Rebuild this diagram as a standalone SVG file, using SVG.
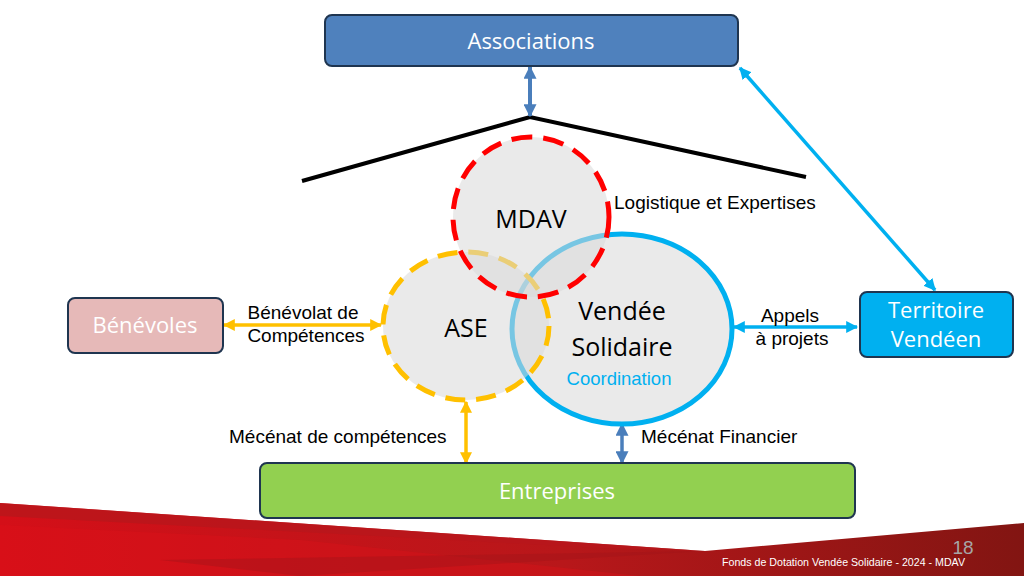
<svg xmlns="http://www.w3.org/2000/svg" width="1024" height="576" viewBox="0 0 1024 576">
<style>
.box{stroke:#1F3550;stroke-width:2}
.bl{font-family:"Open Sans","Liberation Sans",sans-serif;font-size:22px;fill:#FFFFFF;text-anchor:middle}
.cl{font-family:"Open Sans","Liberation Sans",sans-serif;font-size:25px;fill:#000000;text-anchor:middle}
.lab{font-family:"Liberation Sans",Arial,sans-serif;font-size:19px;fill:#000000}
.circ{fill:#D9D9D9;fill-opacity:0.55}
</style>
<defs>
<marker id="ay" viewBox="0 0 10 10" refX="9" refY="5" markerWidth="12" markerHeight="12" markerUnits="userSpaceOnUse" orient="auto-start-reverse"><path d="M0,0 L10,5 L0,10 z" fill="#FFC000"/></marker>
<marker id="ac" viewBox="0 0 10 10" refX="9" refY="5" markerWidth="12" markerHeight="12" markerUnits="userSpaceOnUse" orient="auto-start-reverse"><path d="M0,0 L10,5 L0,10 z" fill="#00B0F0"/></marker>
<marker id="ab" viewBox="0 0 10 10" refX="9" refY="5" markerWidth="13" markerHeight="13" markerUnits="userSpaceOnUse" orient="auto-start-reverse"><path d="M0,0 L10,5 L0,10 z" fill="#4A7EBB"/></marker>
<linearGradient id="red" x1="0" y1="0" x2="1" y2="0">
<stop offset="0" stop-color="#D40F18"/>
<stop offset="0.55" stop-color="#B8171A"/>
<stop offset="1" stop-color="#821512"/>
</linearGradient>
</defs>
<rect width="1024" height="576" fill="#FFFFFF"/>

<g id="footer">
<polygon points="0,503 705,551 1024,523 1024,576 0,576" fill="url(#red)"/>
<polygon points="0,503 705,551 600,548 0,516" fill="#B8161C" opacity="0.8"/>
<polygon points="0,525 300,540 640,576 0,576" fill="#E0101A" opacity="0.35"/>
<polygon points="160,560 705,551 300,576" fill="#A01518" opacity="0.4"/>
<text x="963" y="554" font-family="Liberation Sans,Arial,sans-serif" font-size="19" fill="#A6A6A6" text-anchor="middle">18</text>
<text x="722" y="566" font-family="Liberation Sans,Arial,sans-serif" font-size="10.5" fill="#FFFFFF" textLength="243" lengthAdjust="spacingAndGlyphs">Fonds de Dotation Vendée Solidaire - 2024 - MDAV</text>
</g>

<g id="roof">
<polyline points="302,181 530,117 806,177" fill="none" stroke="#000000" stroke-width="4"/>
</g>

<g id="connectors">
<line x1="530" y1="67" x2="530" y2="116" stroke="#4A7EBB" stroke-width="4" marker-start="url(#ab)" marker-end="url(#ab)"/>
<line x1="740" y1="68" x2="935" y2="290" stroke="#00B0F0" stroke-width="3.5" marker-start="url(#ac)" marker-end="url(#ac)"/>
<line x1="224" y1="325" x2="381" y2="325" stroke="#FFC000" stroke-width="3.5" marker-start="url(#ay)" marker-end="url(#ay)"/>
<line x1="734" y1="327" x2="857" y2="327" stroke="#00B0F0" stroke-width="3.5" marker-start="url(#ac)" marker-end="url(#ac)"/>
<line x1="466" y1="402" x2="466" y2="463" stroke="#FFC000" stroke-width="3.5" marker-start="url(#ay)" marker-end="url(#ay)"/>
<line x1="622" y1="424" x2="622" y2="463" stroke="#4A7EBB" stroke-width="3.5" marker-start="url(#ab)" marker-end="url(#ab)"/>
</g>

<g id="vendee">
<ellipse class="circ" cx="622" cy="329" rx="110" ry="95" stroke="#00B0F0" stroke-width="5"/>
<text class="cl" x="622" y="320">Vendée</text>
<text class="cl" x="622" y="356">Solidaire</text>
<text x="619" y="385" font-family="Liberation Sans,Arial,sans-serif" font-size="18.5" fill="#00B0F0" text-anchor="middle">Coordination</text>
</g>

<g id="ase">
<ellipse class="circ" cx="466" cy="326" rx="83" ry="74" stroke="#FFC000" stroke-width="5" stroke-dasharray="20 11"/>
<text class="cl" x="466" y="337">ASE</text>
</g>

<g id="mdav">
<ellipse class="circ" cx="531" cy="217" rx="78" ry="80" stroke="#FF0000" stroke-width="5" stroke-dasharray="21 11"/>
<text class="cl" x="531" y="228">MDAV</text>
</g>

<g id="associations">
<rect class="box" x="325" y="15" width="413" height="51" rx="7" fill="#4F81BD"/>
<text class="bl" x="531" y="49">Associations</text>
</g>

<g id="benevoles">
<rect class="box" x="68" y="298" width="155" height="55" rx="7" fill="#E6B9B8"/>
<text class="bl" x="145" y="333">Bénévoles</text>
</g>

<g id="territoire">
<rect class="box" x="860" y="292" width="153" height="65" rx="7" fill="#00B0F0"/>
<text class="bl" x="936" y="318">Territoire</text>
<text class="bl" x="936" y="347">Vendéen</text>
</g>

<g id="entreprises">
<rect class="box" x="260" y="463" width="595" height="55" rx="7" fill="#92D050"/>
<text class="bl" x="557" y="499">Entreprises</text>
</g>

<g id="labels">
<text class="lab" x="614" y="209">Logistique et Expertises</text>
<text class="lab" x="303" y="319" text-anchor="middle">Bénévolat de</text>
<text class="lab" x="306" y="342" text-anchor="middle">Compétences</text>
<text class="lab" x="790" y="322" text-anchor="middle">Appels</text>
<text class="lab" x="792" y="345" text-anchor="middle">à projets</text>
<text class="lab" x="229" y="443">Mécénat de compétences</text>
<text class="lab" x="641" y="443">Mécénat Financier</text>
</g>
</svg>
